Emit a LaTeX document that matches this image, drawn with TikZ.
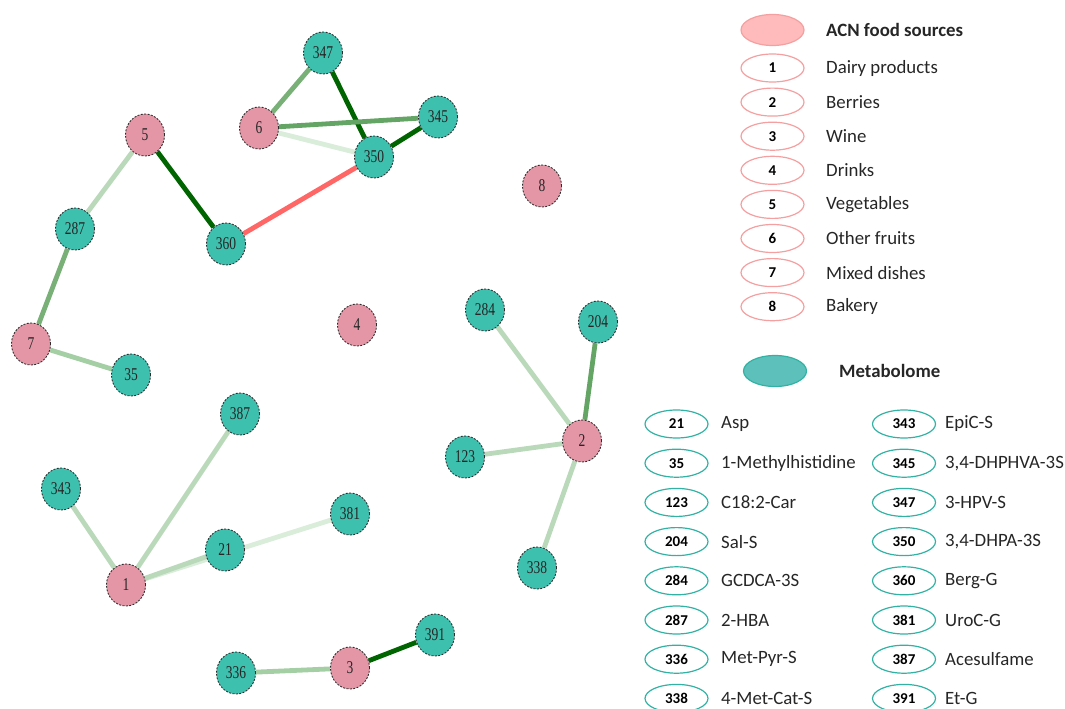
\documentclass[tikz,border=0pt]{standalone}
\usepackage{fontspec}
\setmainfont{Liberation Serif}
\newfontfamily\legfont{Carlito}
\newfontfamily\netfont[FakeStretch=0.75]{Liberation Serif}
\usetikzlibrary{shapes.geometric,backgrounds}
\definecolor{tealfill}{RGB}{62,192,175}
\definecolor{pinkfill}{RGB}{228,150,166}
\definecolor{nodeborder}{RGB}{45,45,45}
\definecolor{dgreen}{RGB}{0,100,0}
\definecolor{mgreen}{RGB}{120,176,120}
\definecolor{mgreenb}{RGB}{100,164,100}
\definecolor{lgreen}{RGB}{186,217,186}
\definecolor{llgreen}{RGB}{164,206,164}
\definecolor{vlgreen}{RGB}{218,236,218}
\definecolor{redline}{RGB}{255,102,102}
\definecolor{legpink}{RGB}{244,160,160}
\definecolor{legpinkfill}{RGB}{255,187,187}
\definecolor{legteal}{RGB}{50,178,164}
\definecolor{legtealfill}{RGB}{94,192,186}
\tikzset{
  x=1pt, y=-1pt,
  netnode/.style={ellipse, minimum width=39pt, minimum height=42pt, inner sep=0pt,
    draw=nodeborder, dash pattern=on 2pt off 1.4pt, line width=0.85pt,
    font=\netfont\fontsize{18}{18}\selectfont, text=black!85},
  metab/.style={netnode, fill=tealfill},
  food/.style={netnode, fill=pinkfill},
  edge/.style={line width=4.8pt},
  legitem/.style={ellipse, minimum width=63pt, minimum height=28pt, inner sep=0pt, line width=1.2pt,
    font=\legfont\bfseries\fontsize{15}{15}\selectfont},
  legfood/.style={legitem, draw=legpink},
  legmet/.style={legitem, draw=legteal},
  legtext/.style={anchor=west, inner sep=0pt, font=\legfont\fontsize{18.8}{18.8}\selectfont, text=black!85},
  legheadtext/.style={legtext, font=\legfont\bfseries\fontsize{18.8}{18.8}\selectfont},
}
\begin{document}
\begin{tikzpicture}
\useasboundingbox (0,0) rectangle (1065,709);
% network nodes
\node[metab] (n347) at (323,53) {347};
\node[food]  (f6)   at (259,128) {6};
\node[metab] (n345) at (438,117) {345};
\node[metab] (n350) at (374,157) {350};
\node[food]  (f5)   at (145,135) {5};
\node[metab] (n287) at (75,229) {287};
\node[metab] (n360) at (226,244) {360};
\node[food]  (f8)   at (542,186) {8};
\node[food]  (f7)   at (31,344) {7};
\node[metab] (n35)  at (131,375) {35};
\node[food]  (f4)   at (357,325) {4};
\node[metab] (n387) at (240,414) {387};
\node[metab] (n343) at (61,489) {343};
\node[metab] (n381) at (350,514) {381};
\node[metab] (n21)  at (225,550) {21};
\node[food]  (f1)   at (126,585) {1};
\node[metab] (n391) at (435,635) {391};
\node[food]  (f3)   at (350,668) {3};
\node[metab] (n336) at (236,673) {336};
\node[metab] (n284) at (485,310) {284};
\node[metab] (n204) at (598,322) {204};
\node[metab] (n123) at (465,457) {123};
\node[food]  (f2)   at (582,441) {2};
\node[metab] (n338) at (537,568) {338};
% edges
\begin{pgfonlayer}{background}
\draw[edge, mgreen] (f6) -- (n347);
\draw[edge, dgreen] (n347) -- (n350);
\draw[edge, mgreenb] (f6) -- (n345);
\draw[edge, vlgreen] (f6) -- (n350);
\draw[edge, dgreen] (n345) -- (n350);
\draw[edge, dgreen] (f5) -- (n360);
\draw[edge, lgreen] (f5) -- (n287);
\draw[edge, redline] (n360) -- (n350);
\draw[edge, mgreen] (n287) -- (f7);
\draw[edge, llgreen] (f7) -- (n35);
\draw[edge, lgreen] (n343) -- (f1);
\draw[edge, lgreen] (n387) -- (f1);
\draw[edge, vlgreen] (f1) -- (n381);
\draw[edge, lgreen] (f1) -- (n21);
\draw[edge, dgreen] (f3) -- (n391);
\draw[edge, llgreen] (f3) -- (n336);
\draw[edge, lgreen] (f2) -- (n284);
\draw[edge, mgreenb] (f2) -- (n204);
\draw[edge, lgreen] (f2) -- (n123);
\draw[edge, lgreen] (f2) -- (n338);
\end{pgfonlayer}
% legend: food sources
\node[legitem, minimum height=31pt, fill=legpinkfill, draw=legpink] (hfood) at (772.5,30) {};
\node[legheadtext] (thfood) at (826,30) {ACN food sources};
\foreach \i/\t [count=\k from 0] in {1/Dairy products,2/Berries,3/Wine,4/Drinks,5/Vegetables,6/Other fruits,7/Mixed dishes,8/Bakery}{
  \node[legfood] (lf\i) at (772.5,{68+34.1*\k}) {\i};
  \node[legtext] (lft\i) at (826,{68+34.1*\k}) {\t};
}
% legend: metabolome
\node[legitem, minimum height=31pt, fill=legtealfill, draw=legteal] (hmet) at (775,371) {};
\node[legheadtext] (thmet) at (839,371) {Metabolome};
\foreach \i/\t [count=\k from 0] in {21/Asp,35/1-Methylhistidine,123/C18:2-Car,204/Sal-S,284/GCDCA-3S,287/2-HBA,336/Met-Pyr-S,338/4-Met-Cat-S}{
  \node[legmet] (lm\i) at (676.5,{424+39.2*\k}) {\i};
  \node[legtext] (lmt\i) at (721,{424+39.2*\k}) {\t};
}
\foreach \i/\t [count=\k from 0] in {343/EpiC-S,345/{3,4-DHPHVA-3S},347/3-HPV-S,350/{3,4-DHPA-3S},360/Berg-G,381/UroC-G,387/Acesulfame,391/Et-G}{
  \node[legmet] (lm\i) at (904,{424+39.2*\k}) {\i};
  \node[legtext] (lmt\i) at (945,{424+39.2*\k}) {\t};
}
\end{tikzpicture}
\end{document}
